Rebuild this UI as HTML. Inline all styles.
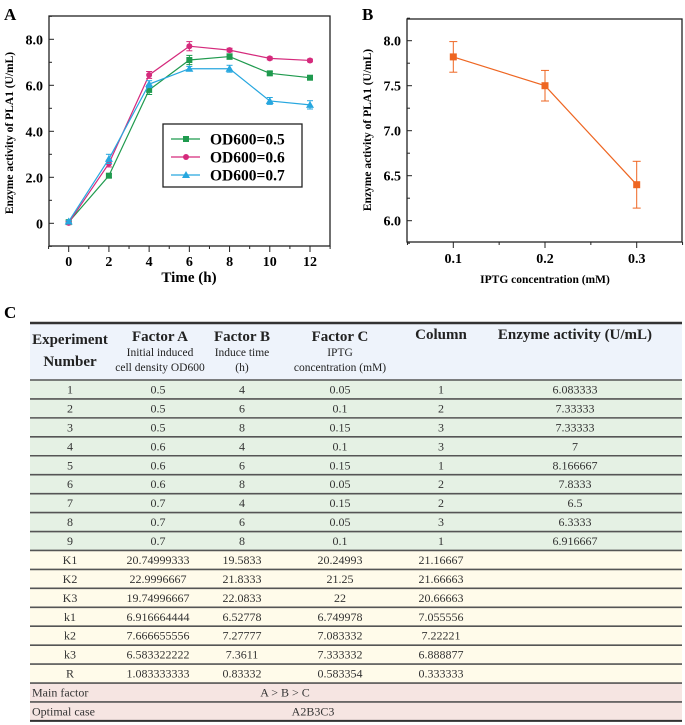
<!DOCTYPE html>
<html><head><meta charset="utf-8"><style>
html,body{margin:0;padding:0;background:#fff;}
svg{display:block;font-family:"Liberation Serif",serif;}
</style></head><body>
<svg id="fig" width="685" height="725" viewBox="0 0 685 725">
<g id="chartA"></g>
<g id="chartB"></g>
<g id="table"></g>
</svg>
<script>
const NS="http://www.w3.org/2000/svg";
// ---- Chart A data ----
const timesA=[0,2,4,6,8,10,12];
const od05=[0.05,2.07,5.8,7.1,7.25,6.52,6.33];
const od06=[0.02,2.6,6.45,7.7,7.53,7.17,7.08];
const od07=[0.08,2.8,6.05,6.72,6.72,5.32,5.15];
const errA05=[0.05,0.08,0.2,0.2,0.12,0.08,0.08];
const errA06=[0.05,0.15,0.15,0.2,0.08,0.06,0.06];
const errA07=[0.05,0.2,0.15,0.1,0.15,0.15,0.18];
const seriesNamesA=["OD600=0.5","OD600=0.6","OD600=0.7"];
const yTicksA=[0,2,4,6,8];
const yTickLabelsA=["0","2.0","4.0","6.0","8.0"];
const xTicksA=[0,2,4,6,8,10,12];
// ---- Chart B data ----
const iptg=[0.1,0.2,0.3];
const activityB=[7.82,7.5,6.4];
const errB=[0.17,0.17,0.26];
const yTicksB=[6.0,6.5,7.0,7.5,8.0];
const xTicksB=[0.1,0.2,0.3];

function el(tag,attrs,parent,text){const e=document.createElementNS(NS,tag);for(const k in attrs)e.setAttribute(k,attrs[k]);if(text!==undefined)e.textContent=text;parent.appendChild(e);return e;}

// ===== Chart A =====
(function(){
const g=document.getElementById('chartA');
const X=v=>68.7+v*(310-68.7)/12;
const Y=v=>223.3-v*23;
let t=el('text',{x:4,y:20,'font-size':17,'font-weight':'bold'},g,'A');

let f=el('rect',{x:49,y:16,width:281,height:230,fill:'none',stroke:'#222','stroke-width':1.3},g);

for(let v=-1;v<=9;v++){el('line',{x1:49,x2:v%2===0?54:52,y1:Y(v),y2:Y(v),stroke:'#222'},g);}
yTicksA.forEach((v,i)=>{const tl=el('text',{x:43,y:Y(v)+5,'font-size':14,'font-weight':'bold','text-anchor':'end'},g,yTickLabelsA[i]);
});
for(let v=-1;v<=13;v++){el('line',{x1:X(v),x2:X(v),y1:246,y2:v%2===0?252:249,stroke:'#222'},g);}
xTicksA.forEach(v=>{const tl=el('text',{x:X(v),y:266,'font-size':14,'font-weight':'bold','text-anchor':'middle'},g,String(v));
});
t=el('text',{x:189,y:282,'font-size':15,'font-weight':'bold','text-anchor':'middle'},g,'Time (h)');

t=el('text',{x:0,y:0,'font-size':11.5,'font-weight':'bold','text-anchor':'middle',transform:'translate(13,133) rotate(-90)'},g,'Enzyme activity of PLA1 (U/mL)');

const series=[[od05,errA05,'#1f9a4e','square'],[od06,errA06,'#d52a7c','circle'],[od07,errA07,'#27a7df','triangle']];
function marker(shape,x,y,c,parent){
 if(shape==='square')return el('rect',{x:x-3,y:y-3,width:6,height:6,fill:c},parent);
 if(shape==='circle')return el('circle',{cx:x,cy:y,r:3,fill:c},parent);
 return el('polygon',{points:`${x},${y-4} ${x-4},${y+3} ${x+4},${y+3}`,fill:c},parent);
}
series.forEach((s,si)=>{
 const sg=el('g',{},g);
 
 
 el('polyline',{points:timesA.map((x,i)=>X(x)+','+Y(s[0][i])).join(' '),fill:'none',stroke:s[2],'stroke-width':1.2},sg);
 timesA.forEach((x,i)=>{
  const y1=Y(s[0][i]+s[1][i]),y2=Y(s[0][i]-s[1][i]);
  el('line',{x1:X(x),x2:X(x),y1:y1,y2:y2,stroke:s[2]},sg);
  el('line',{x1:X(x)-3,x2:X(x)+3,y1:y1,y2:y1,stroke:s[2]},sg);
  el('line',{x1:X(x)-3,x2:X(x)+3,y1:y2,y2:y2,stroke:s[2]},sg);
  const m=marker(s[3],X(x),Y(s[0][i]),s[2],sg);
  
 });
});
const lg=el('g',{},g);
el('rect',{x:163,y:124,width:139,height:63,fill:'#fff',stroke:'#222','stroke-width':1.3},lg);
series.forEach((s,si)=>{
 const y=139+si*18;
 const eg=el('g',{},lg);
 el('line',{x1:171,x2:200,y1:y,y2:y,stroke:s[2],'stroke-width':1.2},eg);
 marker(s[3],186,y,s[2],eg);
 el('text',{x:210,y:y+5.5,'font-size':15.5,'font-weight':'bold'},eg,seriesNamesA[si]);
});
})();

// ===== Chart B =====
(function(){
const g=document.getElementById('chartB');
const X=v=>453.3+(v-0.1)*(636.7-453.3)/0.2;
const Y=v=>220.7-(v-6)*90;
let t=el('text',{x:362,y:20,'font-size':17,'font-weight':'bold'},g,'B');

let f=el('rect',{x:407,y:19,width:275,height:223,fill:'none',stroke:'#222','stroke-width':1.3},g);

for(let v=5.75;v<=8.26;v+=0.25){const major=Math.abs(v*2-Math.round(v*2))<0.01;el('line',{x1:407,x2:major?412:410,y1:Y(v),y2:Y(v),stroke:'#222'},g);}
yTicksB.forEach(v=>{const tl=el('text',{x:401,y:Y(v)+5,'font-size':14,'font-weight':'bold','text-anchor':'end'},g,v.toFixed(1));
});
for(let v=0.05;v<=0.36;v+=0.05){const major=Math.abs(v*10-Math.round(v*10))<0.01;el('line',{x1:X(v),x2:X(v),y1:242,y2:major?248:245,stroke:'#222'},g);}
xTicksB.forEach(v=>{const tl=el('text',{x:X(v),y:263,'font-size':14,'font-weight':'bold','text-anchor':'middle'},g,v.toFixed(1));
});
t=el('text',{x:545,y:283,'font-size':11.5,'font-weight':'bold','text-anchor':'middle'},g,'IPTG concentration (mM)');

t=el('text',{x:0,y:0,'font-size':11.5,'font-weight':'bold','text-anchor':'middle',transform:'translate(371,130) rotate(-90)'},g,'Enzyme activity of PLA1 (U/mL)');

const c='#ee6622';
const sg=el('g',{},g);
el('polyline',{points:iptg.map((x,i)=>X(x)+','+Y(activityB[i])).join(' '),fill:'none',stroke:c,'stroke-width':1.2},sg);
iptg.forEach((x,i)=>{
 const y1=Y(activityB[i]+errB[i]),y2=Y(activityB[i]-errB[i]);
 el('line',{x1:X(x),x2:X(x),y1:y1,y2:y2,stroke:c},sg);
 el('line',{x1:X(x)-4,x2:X(x)+4,y1:y1,y2:y1,stroke:c},sg);
 el('line',{x1:X(x)-4,x2:X(x)+4,y1:y2,y2:y2,stroke:c},sg);
 const m=el('rect',{x:X(x)-3.5,y:Y(activityB[i])-3.5,width:7,height:7,fill:c},sg);
 
});
})();

// ===== Table =====
(function(){
const g=document.getElementById('table');
const cx=[70,158,242,340,441,575];
let t=el('text',{x:4,y:318,'font-size':17,'font-weight':'bold'},g,'C');

el('rect',{x:30,y:323,width:652,height:57,fill:'#eef3fb'},g);
el('line',{x1:30,x2:682,y1:323,y2:323,stroke:'#333','stroke-width':2.5},g);
const H=(x,y,s,txt,b)=>{const e=el('text',{x:x,y:y,'font-size':s,'font-weight':b?'bold':'normal','text-anchor':'middle',fill:'#222'},g,txt);};
H(70,344,15,'Experiment',1);H(70,366,15,'Number',1);
H(160,341,15,'Factor A',1);H(160,356,11.5,'Initial induced');H(160,371,11.5,'cell density OD600');
H(242,341,15,'Factor B',1);H(242,356,11.5,'Induce time');H(242,371,11.5,'(h)');
H(340,341,15,'Factor C',1);H(340,356,11.5,'IPTG');H(340,371,11.5,'concentration (mM)');
H(441,339,15,'Column',1);
H(575,339,15,'Enzyme activity (U/mL)',1);
const rows=[
["1","0.5","4","0.05","1","6.083333"],["2","0.5","6","0.1","2","7.33333"],["3","0.5","8","0.15","3","7.33333"],
["4","0.6","4","0.1","3","7"],["5","0.6","6","0.15","1","8.166667"],["6","0.6","8","0.05","2","7.8333"],
["7","0.7","4","0.15","2","6.5"],["8","0.7","6","0.05","3","6.3333"],["9","0.7","8","0.1","1","6.916667"],
["K1","20.74999333","19.5833","20.24993","21.16667",""],["K2","22.9996667","21.8333","21.25","21.66663",""],
["K3","19.74996667","22.0833","22","20.66663",""],["k1","6.916664444","6.52778","6.749978","7.055556",""],
["k2","7.666655556","7.27777","7.083332","7.22221",""],["k3","6.583322222","7.3611","7.333332","6.888877",""],
["R","1.083333333","0.83332","0.583354","0.333333",""]];
const top=380,p=18.94;
rows.forEach((r,i)=>{
 const y=top+i*p;
 const rg=el('g',{},g);
 el('rect',{x:30,y:y,width:652,height:p,fill:i<9?'#e5f1e4':'#fffbea'},rg);
 el('line',{x1:30,x2:682,y1:y,y2:y,stroke:'#555','stroke-width':1.6},rg);
 r.forEach((v,j)=>{if(v)el('text',{x:cx[j],y:y+13.5,'font-size':12,'text-anchor':'middle',fill:'#333'},rg,v);});
});
[["Main  factor","A  >  B  >  C",285],["Optimal case","A2B3C3",313]].forEach((r,k)=>{
 const y=top+(16+k)*p;
 const rg=el('g',{},g);
 el('rect',{x:30,y:y,width:652,height:p,fill:'#f6e5e2'},rg);
 el('line',{x1:30,x2:682,y1:y,y2:y,stroke:'#555','stroke-width':1.6},rg);
 el('text',{x:32,y:y+13.5,'font-size':12,fill:'#333'},rg,r[0]);
 el('text',{x:r[2],y:y+13.5,'font-size':12,'text-anchor':'middle',fill:'#333'},rg,r[1]);
});
el('line',{x1:30,x2:682,y1:top+18*p,y2:top+18*p,stroke:'#333','stroke-width':2},g);
})();
</script>
</body></html>
